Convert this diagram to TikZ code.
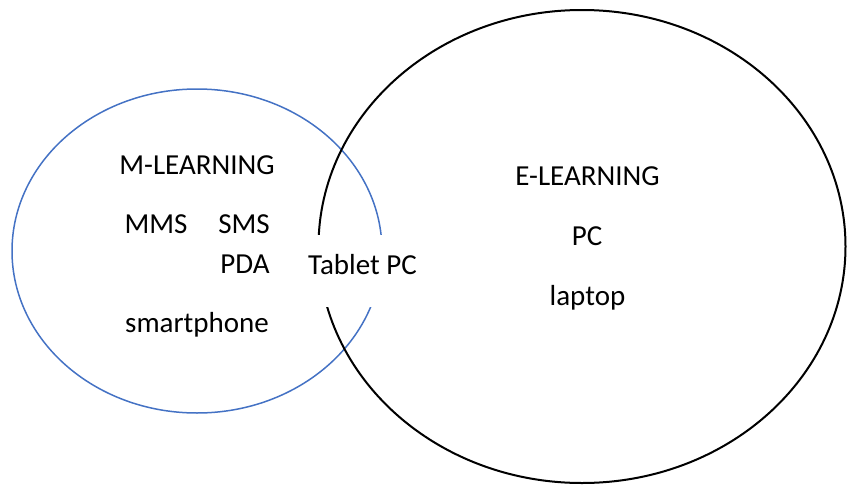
\documentclass[tikz,border=0pt]{standalone}
\usepackage{fontspec}
\setmainfont{Carlito}
\definecolor{mblue}{HTML}{4472C4}
\begin{document}
\begin{tikzpicture}[x=1pt,y=-1pt,
  lbl/.style={inner sep=0pt, anchor=base, font=\fontsize{29}{34}\selectfont, text=black},
  gapbox/.style={fill=white, inner sep=0pt, minimum height=72pt, minimum width=124pt}]
\useasboundingbox (0,0) rectangle (847,485);
\draw[mblue, line width=1.5pt] (197,251) ellipse [x radius=185, y radius=162];
\draw[black, line width=2pt] (582,246.5) ellipse [x radius=263.5, y radius=236.5];
\node[gapbox] (gap) at (362.5,271) {};
\node[lbl] (tablet) at (362.5,274) {Tablet PC};
\node[lbl] (mlearn) at (197,174) {M-LEARNING};
\node[lbl] (mms) at (156,233) {MMS};
\node[lbl] (sms) at (244,233) {SMS};
\node[lbl] (pda) at (245,273) {PDA};
\node[lbl] (smart) at (197,332) {smartphone};
\node[lbl] (elearn) at (587.5,185) {E-LEARNING};
\node[lbl] (pc) at (587,245) {PC};
\node[lbl] (laptop) at (587.5,305) {laptop};
\end{tikzpicture}
\end{document}
